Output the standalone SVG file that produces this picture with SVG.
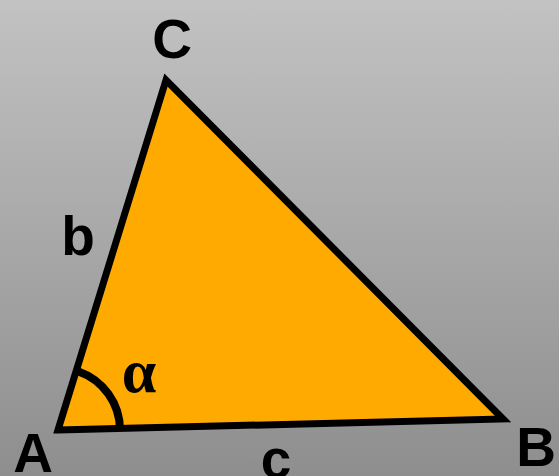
<svg xmlns="http://www.w3.org/2000/svg" width="559" height="476" viewBox="0 0 559 476">
<defs>
<linearGradient id="bg" x1="0" y1="0" x2="0" y2="1">
<stop offset="0" stop-color="#c2c2c2"/>
<stop offset="1" stop-color="#8e8e8e"/>
</linearGradient>
<style>
.lbl{font-family:"Liberation Sans",Arial,sans-serif;font-size:55px;font-weight:bold;fill:#000;text-anchor:middle}
.greek{font-family:"Liberation Serif","Times New Roman",serif;font-size:62px;font-weight:bold;fill:#000;text-anchor:middle}
</style>
</defs>
<rect width="559" height="476" fill="url(#bg)"/>
<g id="triangle">
<polygon points="58,430 503,419 166,80" fill="#ffaa00" stroke="#000" stroke-width="7" stroke-linejoin="miter"/>
</g>
<g id="angle">
<path d="M 78.5,371.5 A 62 62 0 0 1 120,430" fill="none" stroke="#000" stroke-width="8"/>
<text class="greek" x="139" y="392">α</text>
</g>
<g id="labels">
<text id="A" class="lbl" x="33" y="472">A</text>
<text id="B" class="lbl" x="536" y="466">B</text>
<text id="C" class="lbl" x="172" y="58">C</text>
<text id="b" class="lbl" x="78" y="255">b</text>
<text id="c" class="lbl" x="276" y="478">c</text>
</g>
</svg>
